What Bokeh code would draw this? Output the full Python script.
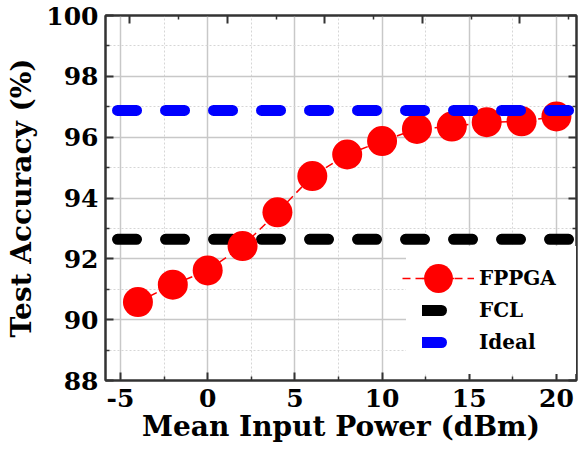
from bokeh.plotting import figure
from bokeh.models import (Range1d, FixedTicker, LinearAxis, Legend, LegendItem)
from bokeh.embed import file_html
from bokeh.resources import INLINE

# ---- data ----
power_dbm = [-4, -2, 0, 2, 4, 6, 8, 10, 12, 14, 16, 18, 20]
fppga_acc = [90.58, 91.15, 91.62, 92.42, 93.53, 94.72, 95.43, 95.87, 96.27, 96.35, 96.49, 96.52, 96.68]
ref_x = [-5.17, 21.15]
fcl_acc = [92.64, 92.64]
ideal_acc = [96.88, 96.88]

x_ticks = [-5, 0, 5, 10, 15, 20]
x_minor = [-2.5, 2.5, 7.5, 12.5, 17.5]
y_ticks = [88, 90, 92, 94, 96, 98, 100]
y_minor = [89, 91, 93, 95, 97, 99]
top_ticks = [1, 2, 3, 4, 5]
top_minor = [1.5, 2.5, 3.5, 4.5, 5.5]

FONT = "DejaVu Serif"
AX = "#333333"

p = figure(width=578, height=450, output_backend="svg", toolbar_location=None,
           x_range=Range1d(-5.86, 21.15), y_range=Range1d(88, 100),
           min_border_left=105, min_border_right=2, min_border_top=15, min_border_bottom=70)
p.extra_x_ranges = {"top": Range1d(0.751, 5.58)}

p.background_fill_color = "white"
p.outline_line_color = AX
p.outline_line_width = 2

def style_axis(ax, labels=True):
    ax.axis_line_color = AX
    ax.axis_line_width = 2
    ax.major_tick_line_color = AX
    ax.major_tick_line_width = 2
    ax.minor_tick_line_color = AX
    ax.minor_tick_line_width = 1.5
    ax.major_tick_in = 8
    ax.major_tick_out = 0
    ax.minor_tick_in = 4
    ax.minor_tick_out = 0
    ax.major_label_text_font = FONT
    ax.major_label_text_font_style = "bold"
    ax.major_label_text_color = "black"
    ax.major_label_text_font_size = "25px"
    ax.axis_label_text_font = FONT
    ax.axis_label_text_font_style = "bold"
    ax.axis_label_text_font_size = "28px"
    ax.axis_label_text_color = "black"
    if not labels:
        ax.major_label_text_font_size = "0px"
        ax.major_label_standoff = 0

xt = FixedTicker(ticks=x_ticks, minor_ticks=x_minor)
yt = FixedTicker(ticks=y_ticks, minor_ticks=y_minor)

xa = p.xaxis[0]
xa.ticker = xt
style_axis(xa)
xa.axis_label = "Mean Input Power (dBm)"
xa.major_label_standoff = 8
xa.axis_label_standoff = 0
xa.major_label_overrides = {t: str(t) for t in x_ticks}

ya = p.yaxis[0]
ya.ticker = yt
style_axis(ya)
ya.axis_label = "Test Accuracy (%)"
ya.major_label_standoff = 7
ya.axis_label_standoff = 5

top_ax = LinearAxis(x_range_name="top", ticker=FixedTicker(ticks=top_ticks, minor_ticks=top_minor))
style_axis(top_ax, labels=False)
top_ax.major_label_overrides = {t: "" for t in top_ticks}
p.add_layout(top_ax, "above")

right_ax = LinearAxis(ticker=FixedTicker(ticks=y_ticks, minor_ticks=y_minor))
style_axis(right_ax, labels=False)
right_ax.major_label_overrides = {t: "" for t in y_ticks}
p.add_layout(right_ax, "right")

for g in (p.xgrid[0], p.ygrid[0]):
    g.grid_line_color = "#c8c8c8"
    g.grid_line_width = 1.5
    g.minor_grid_line_color = "#d6d6d6"
    g.minor_grid_line_width = 1
    g.minor_grid_line_dash = "2 2"
p.xgrid[0].ticker = xt
p.ygrid[0].ticker = yt

fcl_r = p.line(ref_x, fcl_acc, line_color="black", line_width=11, line_dash="19 29", line_cap="round")
fp_line = p.line(power_dbm, fppga_acc, line_color="red", line_width=1.5, line_dash="8 5")
fp_pts = p.scatter(power_dbm, fppga_acc, size=30, fill_color="red", line_color=None)
ideal_r = p.line(ref_x, ideal_acc, line_color="blue", line_width=11, line_dash="19 29", line_cap="round")

# main legend (white box, all labels)
legend_b = Legend(items=[LegendItem(label="FPPGA", renderers=[fp_line, fp_pts]),
                         LegendItem(label="FCL", renderers=[fcl_r]),
                         LegendItem(label="Ideal", renderers=[ideal_r])],
                  location=(301, 6), glyph_width=32, glyph_height=32, spacing=0,
                  padding=16, label_standoff=25, label_width=81,
                  label_text_font=FONT, label_text_font_style="bold",
                  label_text_font_size="20px", label_text_color="black",
                  border_line_alpha=0, background_fill_color="white", background_fill_alpha=1)
# overlay legend drawing the large FPPGA marker symbol
legend_a = Legend(items=[LegendItem(label=" ", renderers=[fp_line, fp_pts])],
                  location=(297, 66), glyph_width=72, glyph_height=72, spacing=0,
                  padding=0, label_standoff=0, label_width=1,
                  label_text_font=FONT, label_text_font_size="20px",
                  border_line_alpha=0, background_fill_alpha=0)
p.add_layout(legend_b)
p.add_layout(legend_a)

open("out.html", "w").write(file_html(p, INLINE))
